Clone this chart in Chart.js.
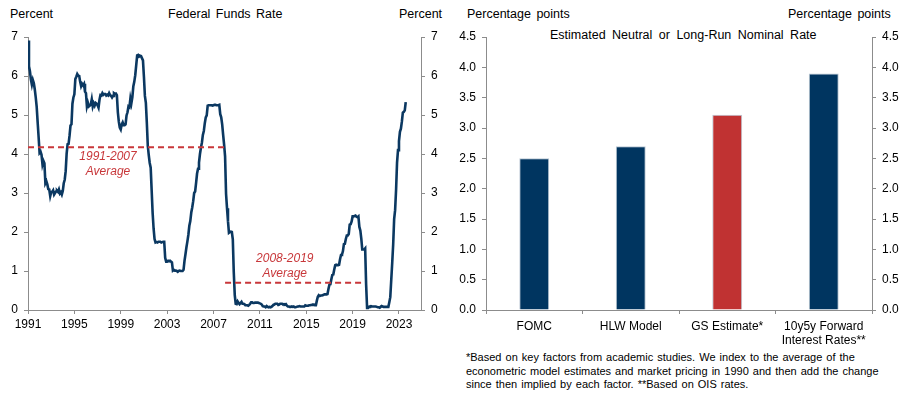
<!DOCTYPE html>
<html><head><meta charset="utf-8">
<script src="https://cdn.jsdelivr.net/npm/chart.js@4.4.0/dist/chart.umd.min.js"></script>
<style>
html,body{margin:0;padding:0;background:#fff;width:910px;height:407px;overflow:hidden;font-family:"Liberation Sans",Arial,sans-serif;color:#000}
.t{position:absolute;font-size:12.5px;white-space:nowrap;line-height:14px;word-spacing:2px}
#c1{position:absolute;left:0;top:0}
#c2{position:absolute;left:450px;top:0}
#foot{position:absolute;left:466px;top:351px;font-size:11px;line-height:13.6px;white-space:nowrap;word-spacing:1px}
</style></head><body>
<div class="t" style="left:10px;top:7px">Percent</div>
<div class="t" style="left:168px;top:7px">Federal Funds Rate</div>
<div class="t" style="left:399px;top:7px">Percent</div>
<div class="t" style="left:467px;top:7px">Percentage points</div>
<div class="t" style="left:788px;top:7px">Percentage points</div>
<div class="t" style="left:550px;top:28px;word-spacing:3px">Estimated Neutral or Long-Run Nominal Rate</div>
<canvas id="c1" width="450" height="350"></canvas>
<canvas id="c2" width="460" height="350"></canvas>
<div id="foot">*Based on key factors from academic studies. We index to the average of the<br>econometric model estimates and market pricing in 1990 and then add the change<br>since then implied by each factor. **Based on OIS rates.</div>
<script>
// ---------- DATA ----------
const startYear = 1991;
// Effective federal funds rate, monthly, Jan 1991 - Aug 2023 (percent)
const fedFunds = [
6.91,6.25,6.12,5.91,5.78,5.90,5.82,5.66,5.45,5.21,4.81,4.43,
4.03,4.06,3.98,3.73,3.82,3.76,3.25,3.30,3.22,3.10,3.09,2.92,
3.02,3.03,3.07,2.96,3.00,3.04,3.06,3.03,3.09,2.99,3.02,2.96,
3.05,3.25,3.34,3.56,4.01,4.25,4.26,4.47,4.73,4.76,5.29,5.45,
5.53,5.92,5.98,6.05,6.01,6.00,5.85,5.74,5.80,5.76,5.80,5.60,
5.56,5.22,5.31,5.22,5.24,5.27,5.40,5.22,5.30,5.24,5.31,5.29,
5.25,5.19,5.39,5.51,5.50,5.56,5.52,5.54,5.54,5.50,5.52,5.50,
5.56,5.51,5.49,5.45,5.49,5.56,5.54,5.55,5.51,5.07,4.83,4.68,
4.63,4.76,4.81,4.74,4.74,4.76,4.99,5.07,5.22,5.20,5.42,5.30,
5.45,5.73,5.85,6.02,6.27,6.53,6.54,6.50,6.52,6.51,6.51,6.40,
5.98,5.49,5.31,4.80,4.21,3.97,3.77,3.65,3.07,2.49,2.09,1.82,
1.73,1.74,1.73,1.75,1.75,1.75,1.73,1.74,1.75,1.75,1.34,1.24,
1.24,1.26,1.25,1.26,1.26,1.22,1.01,1.03,1.01,1.01,1.00,0.98,
1.00,1.01,1.00,1.00,1.00,1.03,1.26,1.43,1.61,1.76,1.93,2.16,
2.28,2.50,2.63,2.79,3.00,3.04,3.26,3.50,3.62,3.78,4.00,4.16,
4.29,4.49,4.59,4.79,4.94,4.99,5.24,5.25,5.25,5.25,5.25,5.24,
5.25,5.26,5.26,5.25,5.25,5.25,5.26,5.02,4.94,4.76,4.49,4.24,
3.94,2.98,2.61,2.28,1.98,2.00,2.01,2.00,1.81,0.97,0.39,0.16,
0.15,0.22,0.18,0.15,0.18,0.21,0.16,0.16,0.15,0.12,0.12,0.12,
0.11,0.13,0.16,0.20,0.20,0.18,0.18,0.19,0.19,0.19,0.19,0.18,
0.17,0.16,0.14,0.10,0.09,0.09,0.07,0.10,0.08,0.07,0.08,0.07,
0.08,0.10,0.13,0.14,0.16,0.16,0.16,0.13,0.14,0.16,0.16,0.16,
0.14,0.15,0.14,0.15,0.11,0.09,0.09,0.08,0.08,0.09,0.08,0.09,
0.07,0.07,0.08,0.09,0.09,0.10,0.09,0.09,0.09,0.09,0.09,0.12,
0.11,0.11,0.11,0.12,0.12,0.13,0.13,0.14,0.14,0.12,0.12,0.24,
0.34,0.38,0.36,0.37,0.37,0.38,0.39,0.40,0.40,0.40,0.41,0.54,
0.65,0.66,0.79,0.90,0.91,1.04,1.15,1.16,1.15,1.15,1.16,1.30,
1.41,1.42,1.51,1.69,1.70,1.82,1.91,1.91,1.95,2.19,2.20,2.27,
2.40,2.40,2.41,2.42,2.39,2.38,2.40,2.13,2.04,1.83,1.55,1.55,
1.55,1.58,0.65,0.05,0.05,0.08,0.09,0.10,0.09,0.09,0.09,0.09,
0.09,0.08,0.07,0.07,0.06,0.08,0.10,0.09,0.08,0.08,0.08,0.08,
0.08,0.08,0.20,0.33,0.77,1.21,1.68,2.33,2.56,3.08,3.78,4.10,
4.33,4.57,4.65,4.83,5.06,5.08,5.12,5.33
];
const avgPeriods = ['1991-2007', '2008-2019'];
const avgValues = [4.17, 0.70];
const avgStart = [1991, 2008];
const avgEnd = [2008, 2020];
const yearTicks = [1991,1995,1999,2003,2007,2011,2015,2019,2023];
const leftRange = [0, 7];

const neutralCats = ['FOMC','HLW Model','GS Estimate*',['10y5y Forward','Interest Rates**']];
const neutralVals = [2.50, 2.70, 3.22, 3.90];
const rightRange = [0, 4.5];

// ---------- STYLE ----------
const NAVY = '#0b3861', BAR = '#003560', RED = '#c03232', AVG = '#c8373a', AXIS = '#8c8c8c';
Chart.defaults.font.family = '"Liberation Sans", Arial, sans-serif';
Chart.defaults.font.size = 12;
Chart.defaults.color = '#000';

const axisGrid = {drawOnChartArea:false, drawTicks:true, tickLength:4, color:AXIS};
const axisBorder = {display:true, color:AXIS, width:1};

const lineData = fedFunds.map((v,i)=>({x:startYear + i/12, y:v}));
const avgSets = avgValues.map((v,k)=>({
  type:'line', data:[{x:avgStart[k],y:v},{x:avgEnd[k],y:v}],
  borderColor:AVG, borderWidth:2, borderDash:[6,4], pointRadius:0, order:0
}));

const annot = {
  id:'annot',
  afterDatasetsDraw(chart){
    const {ctx, scales:{x,y}} = chart;
    const items = [
      {x:1997.9, y:3.92, t:avgPeriods[0]}, {x:1997.9, y:3.54, t:'Average'},
      {x:2013.15, y:1.31, t:avgPeriods[1]}, {x:2013.15, y:0.92, t:'Average'}
    ];
    ctx.save();
    ctx.fillStyle = AVG; ctx.font = 'italic 12px "Liberation Sans", Arial, sans-serif';
    ctx.textAlign='center'; ctx.textBaseline='middle';
    items.forEach(it=>ctx.fillText(it.t, x.getPixelForValue(it.x), y.getPixelForValue(it.y)));
    ctx.restore();
  }
};

new Chart(document.getElementById('c1'), {
  type:'line',
  data:{datasets:[
    {data:lineData, borderColor:NAVY, borderWidth:2.6, pointRadius:0, tension:0, order:1},
    ...avgSets
  ]},
  options:{
    responsive:false, animation:false, events:[],
    layout:{padding:{top:37, left:0, right:0, bottom:0}},
    plugins:{legend:{display:false}, tooltip:{enabled:false}},
    scales:{
      x:{type:'linear', min:1991, max:2024.9,
        afterBuildTicks:s=>{s.ticks = yearTicks.map(v=>({value:v}));},
        ticks:{padding:3, maxRotation:0, autoSkip:false, callback:v=>String(v)},
        grid:axisGrid, border:axisBorder,
        afterFit:s=>{s.height = 40;}},
      y:{position:'left', min:leftRange[0], max:leftRange[1],
        ticks:{stepSize:1, padding:6},
        grid:axisGrid, border:axisBorder, afterFit:s=>{s.width = 28;}},
      y2:{position:'right', min:leftRange[0], max:leftRange[1],
        ticks:{stepSize:1, padding:6},
        grid:axisGrid, border:axisBorder, afterFit:s=>{s.width = 29;}}
    }
  },
  plugins:[annot]
});

new Chart(document.getElementById('c2'), {
  type:'bar',
  data:{labels:neutralCats, datasets:[{
    data:neutralVals,
    backgroundColor:neutralVals.map((v,i)=> i===2 ? RED : BAR),
    borderColor:'#b9c6d3', borderWidth:{top:1,left:1,right:1,bottom:0},
    categoryPercentage:1, barPercentage:0.31
  }]},
  options:{
    responsive:false, animation:false, events:[],
    layout:{padding:{top:37, left:0, right:0, bottom:0}},
    plugins:{legend:{display:false}, tooltip:{enabled:false}},
    scales:{
      x:{ticks:{padding:5, maxRotation:0, autoSkip:false},
        grid:{...axisGrid, offset:true}, border:axisBorder,
        afterFit:s=>{s.height = 40;}},
      y:{position:'left', min:rightRange[0], max:rightRange[1],
        ticks:{stepSize:0.5, padding:6, callback:v=>v.toFixed(1)},
        grid:axisGrid, border:axisBorder, afterFit:s=>{s.width = 36;}},
      y2:{position:'right', min:rightRange[0], max:rightRange[1],
        ticks:{stepSize:0.5, padding:6, callback:v=>v.toFixed(1)},
        grid:axisGrid, border:axisBorder, afterFit:s=>{s.width = 38;}}
    }
  }
});
</script>
</body></html>
